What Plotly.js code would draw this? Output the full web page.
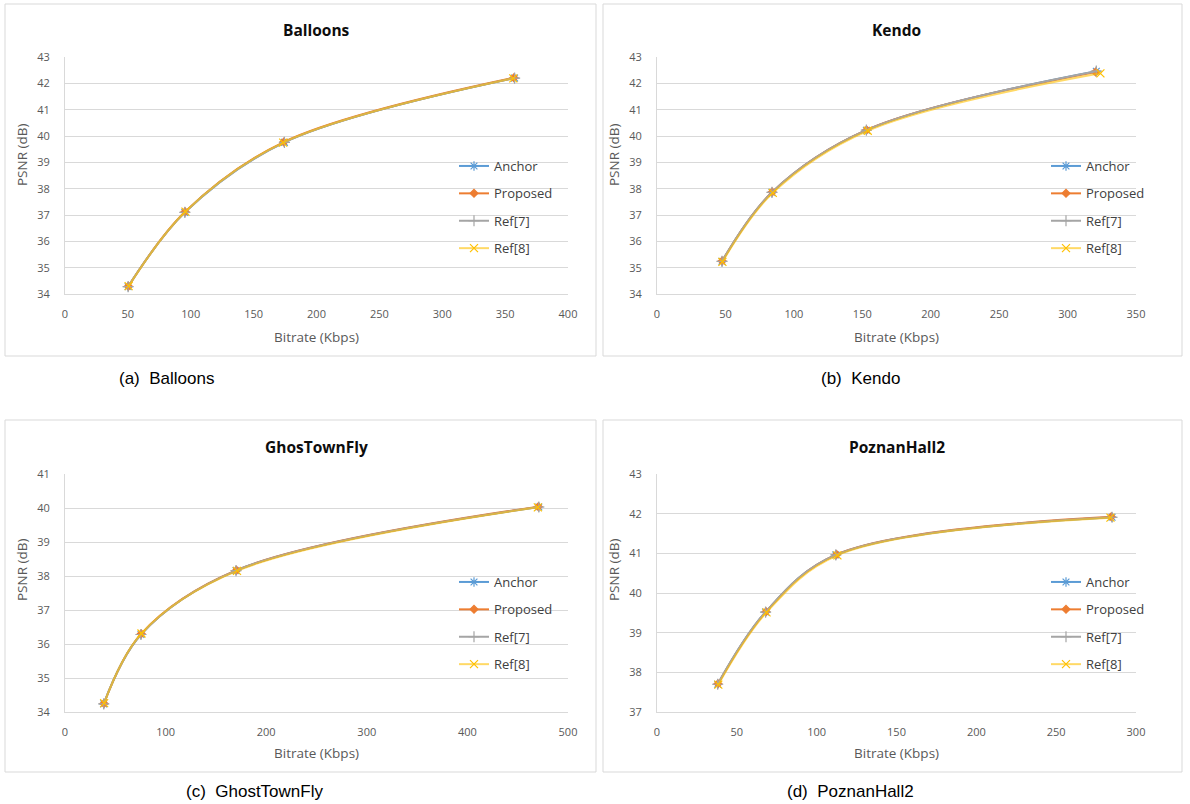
<!DOCTYPE html>
<html>
<head>
<meta charset="utf-8">
<script src="https://cdn.plot.ly/plotly-3.0.1.min.js"></script>
<style>html,body{margin:0;padding:0;background:#fff;}#chart{width:1190px;height:804px;}</style>
</head>
<body>
<div id="chart"></div>
<script>
// ---- Data ----
const seriesNames = ["Anchor", "Proposed", "Ref[7]", "Ref[8]"];
const panelTitles = ["Balloons", "Kendo", "GhosTownFly", "PoznanHall2"];
const captions = ["(a)  Balloons", "(b)  Kendo", "(c)  GhostTownFly", "(d)  PoznanHall2"];
const xTitle = "Bitrate (Kbps)";
const yTitle = "PSNR (dB)";

// Balloons
const balloonsRate   = [[50.2, 95.3, 174.5, 357.5], [50.4, 95.5, 174.0, 357.0], [50.2, 95.3, 174.5, 357.5], [50.6, 95.8, 173.5, 356.5]];
const balloonsPsnr   = [[34.28, 37.10, 39.76, 42.20], [34.29, 37.12, 39.77, 42.21], [34.28, 37.10, 39.76, 42.20], [34.30, 37.13, 39.75, 42.19]];
// Kendo
const kendoRate      = [[47.5, 84.0, 153.0, 321.0], [47.6, 84.2, 153.2, 320.5], [47.5, 84.0, 153.0, 321.0], [47.8, 84.6, 154.0, 324.0]];
const kendoPsnr      = [[35.24, 37.86, 40.22, 42.46], [35.25, 37.87, 40.23, 42.43], [35.24, 37.86, 40.22, 42.46], [35.22, 37.84, 40.20, 42.38]];
// GhosTownFly
const ghostRate      = [[38.5, 75.5, 170.0, 471.0], [38.7, 75.8, 170.5, 470.5], [38.5, 75.5, 170.0, 471.0], [38.9, 76.0, 171.0, 470.0]];
const ghostPsnr      = [[34.24, 36.28, 38.16, 40.03], [34.25, 36.30, 38.17, 40.04], [34.24, 36.28, 38.16, 40.03], [34.26, 36.31, 38.15, 40.02]];
// PoznanHall2
const poznanRate     = [[38.0, 68.0, 112.0, 285.0], [38.2, 68.3, 112.5, 284.5], [38.0, 68.0, 112.0, 285.0], [38.4, 68.6, 113.0, 284.0]];
const poznanPsnr     = [[37.70, 39.52, 40.96, 41.91], [37.71, 39.53, 40.97, 41.92], [37.70, 39.52, 40.96, 41.91], [37.69, 39.51, 40.95, 41.90]];

const xRanges = [[0, 400], [0, 350], [0, 500], [0, 300]];
const xDtick  = [50, 50, 100, 50];
const yRanges = [[34, 43], [34, 43], [34, 41], [37, 43]];

// ---- Styles ----
const colors     = ["#5b9bd5", "#ed7d31", "#a5a5a5", "#ffc000"];
const lineColors = ["#5b9bd5", "#ed7d31", "#a5a5a5", "rgba(255,192,0,0.6)"];
const symbols = ["asterisk-open", "diamond", "cross-thin-open", "x-thin-open"];
const msizes  = [8, 6, 8, 8];
const lwidths = [2.0, 2.0, 2.0, 2.0];

const W = 1190, H = 804;
const px = v => v / W;
const py = v => 1 - v / H;

// plot-area pixel boxes [x0, x1, yTop, yBottom]
const boxes = [[65, 568, 57, 294], [657, 1136, 57, 294], [65, 568, 474, 712], [657, 1136, 474, 712]];
// panel borders [x0, x1, y0, y1]
const frames = [[5, 596, 4, 356], [603, 1182, 4, 356], [5, 596, 420, 772], [603, 1182, 420, 772]];
const legendPos = [[454, 151], [1046, 151], [454, 567], [1046, 567]];
const captionPos = [[166, 378], [860, 378], [254, 791], [850, 791]];
const xTitleY = [337, 337, 753, 753];
const yTitlePos = [[22, 155], [614, 155], [22, 570], [614, 570]];

const allRates = [balloonsRate, kendoRate, ghostRate, poznanRate];
const allPsnr  = [balloonsPsnr, kendoPsnr, ghostPsnr, poznanPsnr];

const fontFam = "Open Sans, Liberation Sans, sans-serif";
const data = [];
const layout = {
  width: W, height: H,
  margin: {l: 0, r: 0, t: 0, b: 0},
  paper_bgcolor: "#ffffff", plot_bgcolor: "#ffffff",
  showlegend: true,
  shapes: [], annotations: []
};

for (let p = 0; p < 4; p++) {
  const sfx = p === 0 ? "" : String(p + 1);
  const legName = p === 0 ? "legend" : "legend" + (p + 1);
  for (let s = 0; s < 4; s++) {
    data.push({
      type: "scatter", mode: "lines+markers",
      x: allRates[p][s], y: allPsnr[p][s],
      name: seriesNames[s],
      xaxis: "x" + sfx, yaxis: "y" + sfx,
      legend: legName, legendgroup: "p" + p + "s" + s,
      line: {color: lineColors[s], width: lwidths[s], shape: "spline", smoothing: 1},
      marker: {symbol: symbols[s], size: msizes[s], color: colors[s], line: {color: colors[s], width: 1.2}},
      hoverinfo: "x+y+name"
    });
  }
  const b = boxes[p];
  layout["xaxis" + sfx] = {
    domain: [px(b[0]), px(b[1])], anchor: "y" + sfx,
    range: xRanges[p], dtick: xDtick[p], tick0: 0,
    showgrid: false, zeroline: false,
    showline: true, linecolor: "#d9d9d9", linewidth: 1,
    ticks: "", ticklabelstandoff: 10,
    tickfont: {family: fontFam, size: 11, color: "#595959"},
    fixedrange: true
  };
  layout["yaxis" + sfx] = {
    domain: [py(b[3]), py(b[2])], anchor: "x" + sfx,
    range: yRanges[p], dtick: 1,
    showgrid: true, gridcolor: "#d9d9d9", gridwidth: 1,
    zeroline: false,
    showline: true, linecolor: "#d9d9d9", linewidth: 1,
    ticks: "", ticklabelstandoff: 12,
    tickfont: {family: fontFam, size: 11, color: "#595959"},
    fixedrange: true
  };
  layout[legName] = {
    x: px(legendPos[p][0]), y: py(legendPos[p][1]),
    xanchor: "left", yanchor: "top",
    bgcolor: "rgba(0,0,0,0)",
    font: {family: fontFam, size: 13, color: "#404040"},
    traceorder: "grouped", tracegroupgap: 7.5,
    itemwidth: 30
  };
  const f = frames[p];
  layout.shapes.push({
    type: "rect", xref: "paper", yref: "paper",
    x0: px(f[0]), x1: px(f[1]), y0: py(f[3]), y1: py(f[2]),
    line: {color: "#d9d9d9", width: 1}, fillcolor: "rgba(0,0,0,0)", layer: "below"
  });
  // chart title
  layout.annotations.push({
    xref: "paper", yref: "paper",
    x: (px(b[0]) + px(b[1])) / 2, y: py(b[2] - 27),
    text: "<b>" + panelTitles[p] + "</b>", showarrow: false,
    xanchor: "center", yanchor: "middle",
    font: {family: fontFam, size: 15.5, color: "#0d0d0d"}
  });
  // x-axis title
  layout.annotations.push({
    xref: "paper", yref: "paper",
    x: (px(b[0]) + px(b[1])) / 2, y: py(xTitleY[p]),
    text: xTitle, showarrow: false,
    xanchor: "center", yanchor: "middle",
    font: {family: fontFam, size: 13.5, color: "#595959"}
  });
  // y-axis title
  layout.annotations.push({
    xref: "paper", yref: "paper",
    x: px(yTitlePos[p][0]), y: py(yTitlePos[p][1]),
    text: yTitle, showarrow: false, textangle: -90,
    xanchor: "center", yanchor: "middle",
    font: {family: fontFam, size: 13.5, color: "#595959"}
  });
  // caption
  layout.annotations.push({
    xref: "paper", yref: "paper",
    x: px(captionPos[p][0]), y: py(captionPos[p][1]),
    text: captions[p], showarrow: false,
    xanchor: "center", yanchor: "middle",
    font: {family: "Liberation Sans, Arial, sans-serif", size: 17, color: "#000000"}
  });
}

Plotly.newPlot("chart", data, layout, {displayModeBar: false});
</script>
</body>
</html>
